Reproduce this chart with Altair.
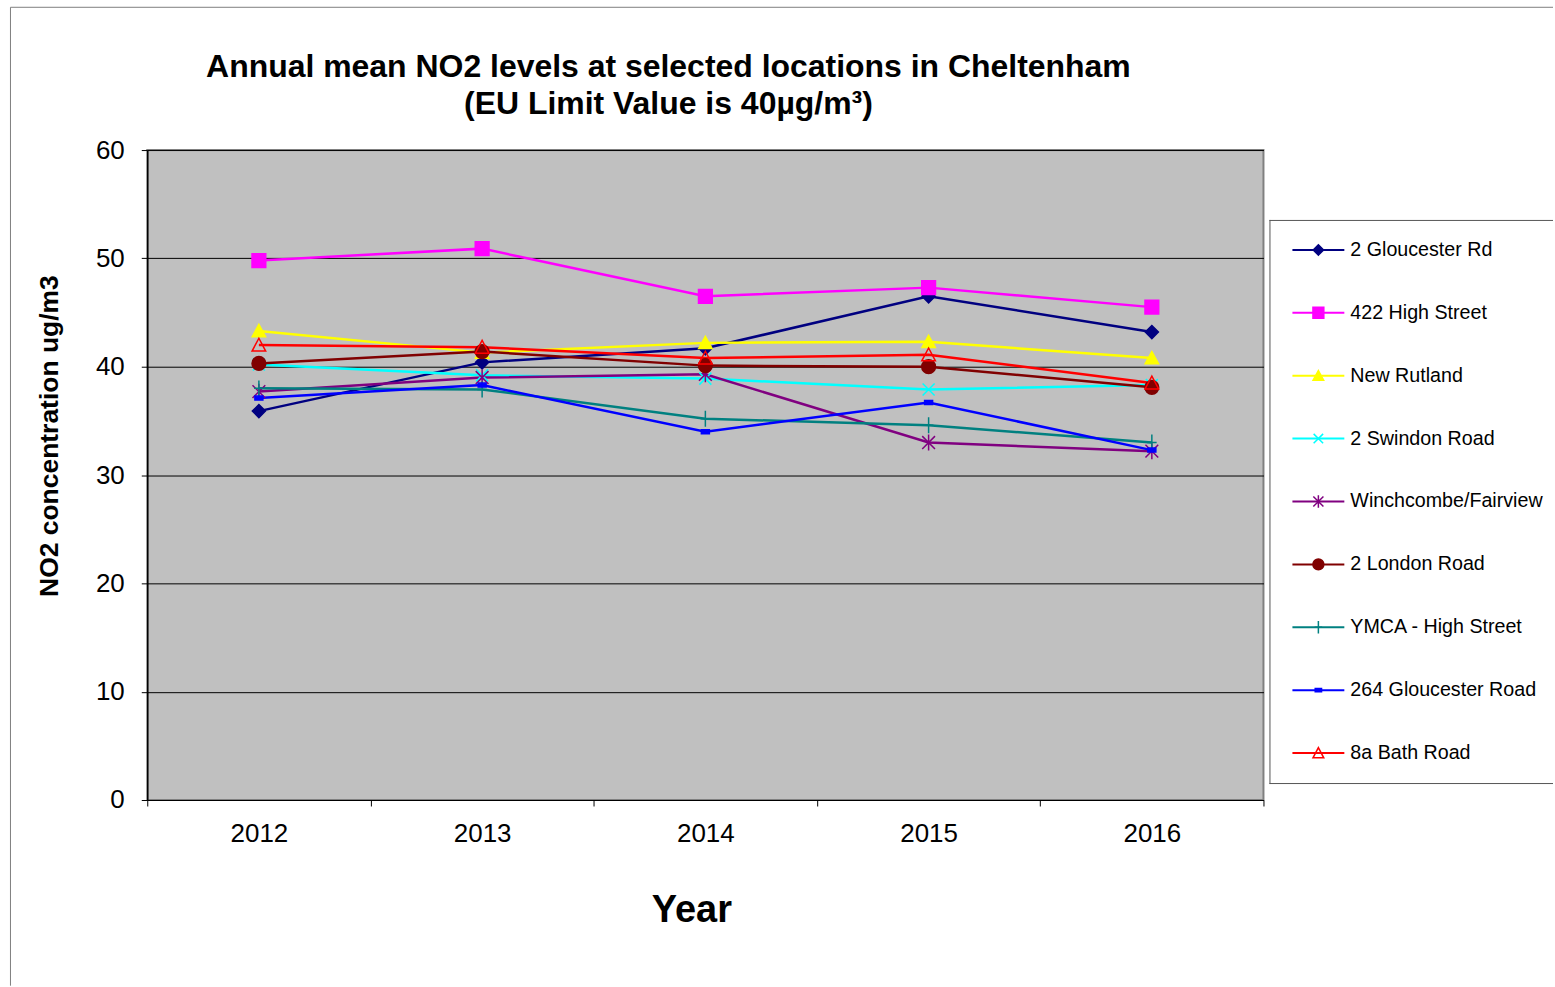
import altair as alt
import pandas as pd

# ---------------- data ----------------
years = ["2012", "2013", "2014", "2015", "2016"]
series = [
    "2 Gloucester Rd",
    "422 High Street",
    "New Rutland",
    "2 Swindon Road",
    "Winchcombe/Fairview",
    "2 London Road",
    "YMCA - High Street",
    "264 Gloucester Road",
    "8a Bath Road",
]
gloucester_rd_2 = [35.9, 40.4, 41.7, 46.5, 43.2]
high_street_422 = [49.8, 50.9, 46.5, 47.3, 45.5]
new_rutland = [43.3, 41.3, 42.2, 42.3, 40.8]
swindon_road_2 = [40.2, 39.2, 38.9, 37.9, 38.3]
winchcombe = [37.7, 39.0, 39.3, 33.0, 32.2]
london_road_2 = [40.3, 41.4, 40.1, 40.0, 38.1]
ymca_high_street = [38.0, 37.9, 35.2, 34.6, 33.0]
gloucester_road_264 = [37.1, 38.3, 34.0, 36.7, 32.3]
bath_road_8a = [42.0, 41.8, 40.8, 41.1, 38.5]

values = [gloucester_rd_2, high_street_422, new_rutland, swindon_road_2, winchcombe,
          london_road_2, ymca_high_street, gloucester_road_264, bath_road_8a]

rows = []
for s, vals in zip(series, values):
    for y, v in zip(years, vals):
        rows.append({"series": s, "year": y, "value": v})
df = pd.DataFrame(rows)

# ---------------- styles ----------------
FONT = "Liberation Sans"
colors = ["#000080", "#FF00FF", "#FFFF00", "#00FFFF", "#800080",
          "#800000", "#008080", "#0000FF", "#FF0000"]
fills = ["#000080", "#FF00FF", "#FFFF00", "#00FFFF", "#800080",
         "#800000", "#008080", "#0000FF", "transparent"]
shapes = [
    "M0,-0.82L0.82,0L0,0.82L-0.82,0Z",
    "M-0.86,-0.86H0.86V0.86H-0.86Z",
    "M0,-0.82L0.84,0.72L-0.84,0.72Z",
    "M-0.75,-0.75L0.75,0.75M-0.75,0.75L0.75,-0.75",
    "M-0.8,-0.8L0.8,0.8M-0.8,0.8L0.8,-0.8M0,-1L0,1",
    "M0.86,0A0.86,0.86,0,1,1,-0.86,0A0.86,0.86,0,1,1,0.86,0Z",
    "M0,-1L0,1M-0.6,0L0.6,0",
    "M-0.5,-0.25H0.5V0.25H-0.5Z",
    "M0,-0.85L0.85,0.75L-0.85,0.75Z",
]

color_enc = alt.Color("series:N", scale=alt.Scale(domain=series, range=colors), legend=None)
stroke_enc = alt.Stroke("series:N", scale=alt.Scale(domain=series, range=colors), legend=None)
fill_enc = alt.Fill("series:N", scale=alt.Scale(domain=series, range=fills), legend=None)
shape_enc = alt.Shape("series:N", scale=alt.Scale(domain=series, range=shapes), legend=None)

x_enc = alt.X(
    "year:O",
    sort=years,
    scale=alt.Scale(type="band", domain=years, paddingInner=0, paddingOuter=0),
    axis=alt.Axis(
        title="Year", labelAngle=0, tickBand="extent", ticks=True, tickSize=6,
        tickColor="black", domainColor="black", domainWidth=1, grid=False,
        labelFont=FONT, labelFontSize=26, labelColor="black",
        labelBaseline="alphabetic", labelPadding=36,
        titleFont=FONT, titleFontSize=38, titleFontWeight="bold", titleColor="black",
        titleX=545, titleY=122, titleBaseline="alphabetic", titleAlign="center",
    ),
)
y_enc = alt.Y(
    "value:Q",
    scale=alt.Scale(domain=[0, 60], nice=False, zero=True),
    axis=alt.Axis(
        values=[0, 10, 20, 30, 40, 50, 60], grid=True, gridColor="black", gridWidth=1,
        tickSize=6, tickColor="black", domainColor="black", domainWidth=1.5,
        labelFont=FONT, labelFontSize=26, labelColor="black", labelPadding=17,
        title="NO2 concentration ug/m3", titleFont=FONT, titleFontSize=26.5,
        titleFontWeight="bold", titleColor="black", titleAngle=-90,
        titleX=-90, titleY=286, titleBaseline="alphabetic", titleAlign="center",
    ),
)

one = pd.DataFrame({"k": [0]})
frame_left = alt.Chart(one).mark_rule(color="#808080", strokeWidth=1).encode(
    x=alt.value(-137), y=alt.value(-143), y2=alt.value(837))
frame_top = alt.Chart(one).mark_rule(color="#808080", strokeWidth=1).encode(
    x=alt.value(-137), x2=alt.value(1408), y=alt.value(-143))

lines = alt.Chart(df).mark_line(strokeWidth=2.5).encode(
    x=x_enc, y=y_enc, color=color_enc, detail="series:N")
points = alt.Chart(df).mark_point(filled=True, size=256, strokeWidth=1.5, opacity=1).encode(
    x=x_enc, y=y_enc, shape=shape_enc, fill=fill_enc, stroke=stroke_enc)

main = alt.layer(frame_left, frame_top, lines, points).properties(
    width=1118,
    height=651,
    title=alt.TitleParams(
        text=["Annual mean NO2 levels at selected locations in Cheltenham",
              "(EU Limit Value is 40µg/m³)"],
        font=FONT, fontSize=32, fontWeight="bold", color="black",
        anchor="middle", frame="group", dx=-37, offset=-139,
        baseline="alphabetic", lineHeight=37,
    ),
    view=alt.ViewBackground(fill="#C0C0C0", stroke="#808080", strokeWidth=2),
)

# ---------------- legend ----------------
leg_df = pd.DataFrame({"series": series})
ly = alt.Y("series:N", sort=series,
           scale=alt.Scale(type="point", domain=series, range=[100, 604], padding=0),
           axis=None)
leg_line = alt.Chart(leg_df).mark_rule(strokeWidth=2).encode(
    x=alt.value(23), x2=alt.value(75), y=ly, color=color_enc)
leg_pt = alt.Chart(leg_df).mark_point(filled=True, size=160, strokeWidth=1.5, opacity=1).encode(
    x=alt.value(49), y=ly, shape=shape_enc, fill=fill_enc, stroke=stroke_enc)
leg_txt = alt.Chart(leg_df).mark_text(
    align="left", baseline="middle", font=FONT, fontSize=19.7, color="black").encode(
    x=alt.value(81), y=ly, text="series:N")
box_l = alt.Chart(one).mark_rule(color="#555555", strokeWidth=1).encode(
    x=alt.value(0.5), y=alt.value(70), y2=alt.value(635))
box_t = alt.Chart(one).mark_rule(color="#555555", strokeWidth=1).encode(
    x=alt.value(0), x2=alt.value(284), y=alt.value(70.5))
box_b = alt.Chart(one).mark_rule(color="#555555", strokeWidth=1).encode(
    x=alt.value(0), x2=alt.value(284), y=alt.value(634.5))

legend = alt.layer(box_l, box_t, box_b, leg_line, leg_pt, leg_txt).properties(
    width=284, height=651,
    view=alt.ViewBackground(fill="white", strokeWidth=0),
)

chart = alt.hconcat(main, legend, spacing=6, bounds="flush").properties(
    padding={"left": 8.5, "top": 4.5, "right": 0, "bottom": 0},
    background="white",
).configure_view(strokeWidth=0)

chart.save("out.html", embed_options={"renderer": "svg", "actions": False})
